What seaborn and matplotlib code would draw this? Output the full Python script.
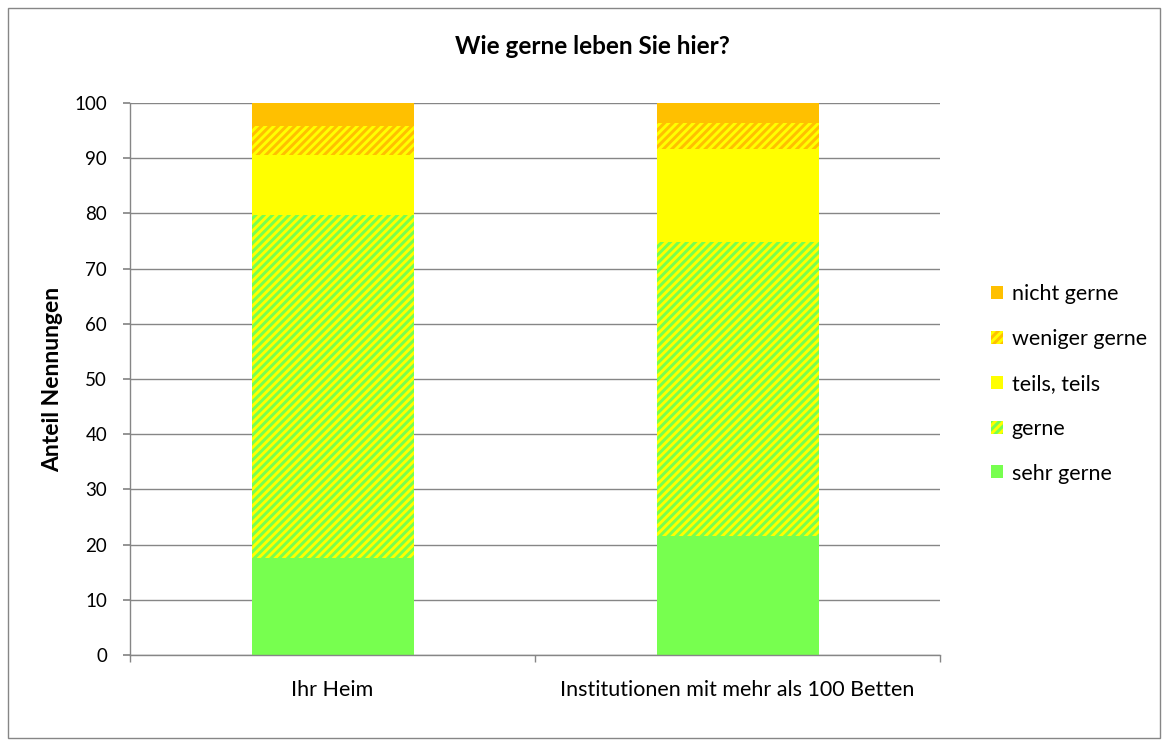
import matplotlib
matplotlib.use("Agg")
import matplotlib.pyplot as plt
import matplotlib.patches as mpatches
import seaborn as sns
import pandas as pd
import numpy as np

categories = ["Ihr Heim", "Institutionen mit mehr als 100 Betten"]
series_names = ["sehr gerne", "gerne", "teils, teils", "weniger gerne", "nicht gerne"]
sehr_gerne = [17.6, 21.6]
gerne = [62.1, 53.2]
teils_teils = [10.9, 16.8]
weniger_gerne = [5.3, 4.8]
nicht_gerne = [4.1, 3.6]
yticks = list(range(0, 101, 10))

sns.set_theme(style="white")
plt.rcParams['font.family'] = ['Lato', 'DejaVu Sans']
plt.rcParams['hatch.linewidth'] = 2.1
for k in ["text.color", "axes.labelcolor", "xtick.labelcolor", "ytick.labelcolor"]:
    plt.rcParams[k] = "black"

values = [sehr_gerne, gerne, teils_teils, weniger_gerne, nicht_gerne]
face = ["#77FF4F", "#77FF4F", "#FFFF00", "#FFC000", "#FFC000"]
hatches = [None, "////", None, "////", None]

df = pd.DataFrame({"Kategorie": categories})
cum = np.zeros(len(categories))
cums = []
for v in values:
    cum = cum + np.array(v)
    cums.append(cum.copy())
for name, c in zip(series_names, cums):
    df[name] = c

fig = plt.figure(figsize=(11.68, 7.46), dpi=100)
ax = fig.add_axes([130/1168, 91/746, 810/1168, 552/746])

# draw from top cumulative to bottom
for i in reversed(range(len(series_names))):
    kw = dict(linewidth=0)
    if hatches[i]:
        kw.update(hatch=hatches[i], edgecolor="#FFFF00")
    sns.barplot(data=df, x="Kategorie", y=series_names[i], color=face[i],
                saturation=1, width=0.4, ax=ax, **kw)

ax.set_ylim(0, 100)
ax.set_xlim(-0.5, 1.5)
ax.set_yticks(yticks)
ax.set_yticklabels([str(t) for t in yticks], fontsize=13.5)
ax.yaxis.grid(True, color="#868686", linewidth=1)
ax.set_axisbelow(True)
for s in ["top", "right"]:
    ax.spines[s].set_visible(False)
for s in ["left", "bottom"]:
    ax.spines[s].set_color("#868686")
    ax.spines[s].set_linewidth(1)
ax.tick_params(axis="y", which="major", length=5, color="#868686", pad=11.5, left=True)
ax.set_xticks([0, 1])
ax.set_xticklabels(categories, fontsize=15.5)
ax.set_xticks([-0.5, 0.5, 1.5], minor=True)
ax.tick_params(axis="x", which="major", length=0, pad=18)
ax.tick_params(axis="x", which="minor", length=5, color="#868686", bottom=True)
ax.set_xlabel("")
ax.set_ylabel("Anteil Nennungen", fontsize=16.5, fontweight="bold")
ax.yaxis.set_label_coords(-67/810, 0.5)

fig.text(592/1168, 1 - 47/746, "Wie gerne leben Sie hier?", ha="center", va="center",
         fontsize=17.5, fontweight="bold")

handles = []
for i in reversed(range(len(series_names))):
    if hatches[i]:
        h = mpatches.Patch(facecolor=face[i], hatch=hatches[i], edgecolor="#FFFF00", linewidth=0)
    else:
        h = mpatches.Patch(facecolor=face[i], linewidth=0)
    handles.append(h)
fig.legend(handles, list(reversed(series_names)), loc="center left",
           bbox_to_anchor=(972/1168, 1 - 384/746), frameon=False, fontsize=15.5,
           handlelength=0.55, handleheight=0.55, handletextpad=0.4, labelspacing=1.15)

border = mpatches.Rectangle((8/1168, 8/746), 1152/1168, 730/746, transform=fig.transFigure,
                            fill=False, edgecolor="#868686", linewidth=1)
fig.patches.append(border)

fig.savefig("out.png", dpi=100)
